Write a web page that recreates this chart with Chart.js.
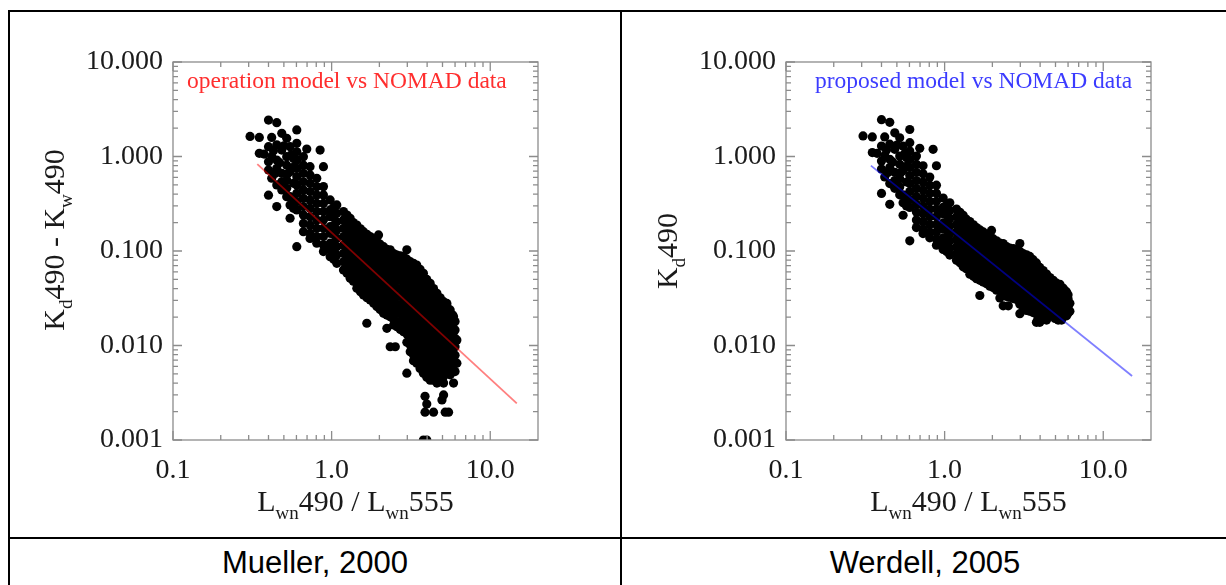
<!DOCTYPE html>
<html>
<head>
<meta charset="utf-8">
<title>Kd490 models vs NOMAD data</title>
<script src="https://cdn.jsdelivr.net/npm/chart.js@4.4.1/dist/chart.umd.min.js"></script>
<style>
  html, body { margin: 0; padding: 0; background: #fff; }
  body { width: 1226px; height: 585px; position: relative; overflow: hidden; font-family: "Liberation Sans", Arial, sans-serif; }
  .rule { position: absolute; background: #000; }
  .plot { position: absolute; top: 12px; width: 600px; height: 524px; }
  .plot canvas { display: block; }
  .caption { position: absolute; top: 545px; height: 36px; line-height: 36px; font-size: 31px; color: #000; text-align: center; }
</style>
</head>
<body>
<div class="rule" style="left:8px;top:10px;width:1218px;height:2px"></div>
<div class="rule" style="left:8px;top:10px;width:2px;height:575px"></div>
<div class="rule" style="left:620px;top:10px;width:2px;height:575px"></div>
<div class="rule" style="left:8px;top:537px;width:1218px;height:2px"></div>

<div class="plot" style="left:10px"><canvas id="opChart" width="600" height="524"></canvas></div>
<div class="plot" style="left:623px"><canvas id="propChart" width="600" height="524"></canvas></div>

<div class="caption" style="left:10px;width:610px">Mueller, 2000</div>
<div class="caption" style="left:622px;width:606px">Werdell, 2005</div>

<script>
// ===== axis ticks =====
const xMajorTicks = [0.1, 1, 10];
const xTickLabels = ['0.1', '1.0', '10.0'];
const xMinorTicks = [0.2, 0.3, 0.4, 0.5, 0.6, 0.7, 0.8, 0.9, 2, 3, 4, 5, 6, 7, 8, 9];
const yMajorTicks = [0.001, 0.01, 0.1, 1, 10];
const yTickLabels = ['0.001', '0.010', '0.100', '1.000', '10.000'];
const yMinorTicks = [
  0.002, 0.003, 0.004, 0.005, 0.006, 0.007, 0.008, 0.009,
  0.02, 0.03, 0.04, 0.05, 0.06, 0.07, 0.08, 0.09,
  0.2, 0.3, 0.4, 0.5, 0.6, 0.7, 0.8, 0.9,
  2, 3, 4, 5, 6, 7, 8, 9
];

// ===== titles (text, subscript?) =====
const xTitle = [['L'], ['wn', true], ['490 / L'], ['wn', true], ['555']];
const opYTitle = [['K'], ['d', true], ['490 - K'], ['w', true], ['490']];
const propYTitle = [['K'], ['d', true], ['490']];
const opNote = 'operation model vs NOMAD data';
const propNote = 'proposed model vs NOMAD data';

// ===== model lines (read at their two ends) =====
const opFitX = [0.34, 14.7];
const opFitY = [0.83, 0.00244];
const propFitX = [0.343, 15.2];
const propFitY = [0.80, 0.00475];

// ===== NOMAD points, Kd490 - Kw490 (left) : [Lwn490/Lwn555, [values...]] =====
const opCluster = [
  [0.306, [1.63]],
  [0.350, [1.59, 1.08]],
  [0.375, [1.06]],
  [0.400, [2.43, 1.27, 0.88, 0.72, 0.39]],
  [0.419, [1.59, 1.00, 0.59]],
  [0.430, [1.15]],
  [0.440, [0.66]],
  [0.451, [2.28, 1.33, 0.918, 0.75, 0.50, 0.295]],
  [0.470, [0.86]],
  [0.485, [1.76, 1.17, 0.664, 0.54, 0.443]],
  [0.500, [1.30]],
  [0.521, [1.56, 0.995, 0.81, 0.564, 0.46, 0.376]],
  [0.530, [0.66]],
  [0.547, [1.27, 0.69, 0.376, 0.307, 0.222]],
  [0.560, [1.05]],
  [0.575, [0.955, 0.52, 0.347, 0.283]],
  [0.580, [0.78]],
  [0.603, [1.91, 1.38, 1.12, 0.918, 0.75, 0.612, 0.50, 0.408, 0.333, 0.272, 0.111]],
  [0.664, [0.995, 0.81, 0.664, 0.54, 0.443, 0.361, 0.295, 0.241, 0.196, 0.160]],
  [0.697, [1.20]],
  [0.731, [0.781, 0.638, 0.52, 0.425, 0.347, 0.283, 0.231, 0.188, 0.154, 0.136]],
  [0.806, [0.588, 0.48, 0.392, 0.319, 0.261, 0.213, 0.174, 0.142, 0.121]],
  [0.846, [1.17]],
  [0.888, [0.781, 0.48, 0.392, 0.319, 0.261, 0.213, 0.174, 0.142, 0.116, 0.0985]]
];
const opBand = [
  [0.979, [0.347, 0.272, 0.231, 0.181, 0.154, 0.121, 0.103, 0.0871]],
  [1.078, [0.307, 0.251, 0.204, 0.167, 0.136, 0.111, 0.0907, 0.074]],
  [1.188, [0.261, 0.213, 0.174, 0.142, 0.116, 0.0945, 0.0771, 0.063]],
  [1.309, [0.222, 0.181, 0.148, 0.121, 0.0985, 0.0803, 0.0656, 0.0514]],
  [1.442, [0.188, 0.154, 0.126, 0.103, 0.0836, 0.0683, 0.0558, 0.0455, 0.0403]],
  [1.588, [0.160, 0.131, 0.107, 0.0871, 0.0711, 0.0581, 0.0474, 0.0387, 0.0343]],
  [1.750, [0.142, 0.116, 0.0945, 0.0771, 0.063, 0.0514, 0.042, 0.0343, 0.0303]],
  [1.928, [0.126, 0.103, 0.0836, 0.0683, 0.0558, 0.0455, 0.0372, 0.0303, 0.0258]],
  [2.124, [0.111, 0.0907, 0.074, 0.0605, 0.0494, 0.0403, 0.0329, 0.0268, 0.0219]],
  [2.340, [0.0985, 0.0803, 0.0656, 0.0535, 0.0437, 0.0357, 0.0291, 0.0238, 0.0202]],
  [2.578, [0.0907, 0.074, 0.0605, 0.0494, 0.0403, 0.0329, 0.0268, 0.0219, 0.0179, 0.0158]],
  [2.84, [0.0871, 0.0711, 0.0581, 0.0474, 0.0387, 0.0316, 0.0258, 0.021, 0.0172, 0.014]],
  [3.13, [0.0771, 0.063, 0.0514, 0.042, 0.0343, 0.0279, 0.0228, 0.0186, 0.0152, 0.0124, 0.0101, 0.0086]],
  [3.44, [0.0711, 0.0581, 0.0474, 0.0387, 0.0316, 0.0258, 0.021, 0.0172, 0.014, 0.0114, 0.0093, 0.0076, 0.0065]],
  [3.79, [0.0581, 0.0474, 0.0387, 0.0316, 0.0258, 0.021, 0.0172, 0.014, 0.0114, 0.0093, 0.0076, 0.0062, 0.0051]],
  [4.18, [0.0455, 0.0372, 0.0303, 0.0248, 0.0202, 0.0165, 0.0135, 0.011, 0.009, 0.0073, 0.006, 0.0049, 0.0043]],
  [4.61, [0.0357, 0.0291, 0.0238, 0.0194, 0.0158, 0.0129, 0.0105, 0.0086, 0.007, 0.0057, 0.0047, 0.004]],
  [5.08, [0.0291, 0.0238, 0.0194, 0.0158, 0.0129, 0.0105, 0.0086, 0.007, 0.0057, 0.0047, 0.004]],
  [5.59, [0.0238, 0.0194, 0.0158, 0.0129, 0.0105, 0.0086, 0.007, 0.0057, 0.0049]],
  [6.0, [0.0179, 0.0146, 0.0119, 0.0097, 0.0079, 0.0065, 0.0053]]
];
// in-between stations that close the gaps of the dense band
const opBandFill = [
  [1.03, [0.29, 0.226, 0.186, 0.151, 0.123, 0.1, 0.082]],
  [1.25, [0.24, 0.195, 0.16, 0.13, 0.106, 0.087, 0.07, 0.058]],
  [1.37, [0.2, 0.164, 0.134, 0.11, 0.09, 0.073, 0.059, 0.048]],
  [1.52, [0.172, 0.14, 0.115, 0.094, 0.077, 0.063, 0.051, 0.042, 0.037]],
  [1.67, [0.15, 0.123, 0.1, 0.082, 0.067, 0.055, 0.045, 0.037, 0.032]],
  [1.84, [0.134, 0.109, 0.089, 0.073, 0.06, 0.049, 0.04, 0.033, 0.028]],
  [2.02, [0.118, 0.097, 0.079, 0.065, 0.053, 0.043, 0.035, 0.029, 0.024]],
  [2.23, [0.104, 0.085, 0.07, 0.057, 0.046, 0.038, 0.031, 0.025, 0.021]],
  [2.46, [0.094, 0.077, 0.063, 0.051, 0.042, 0.034, 0.028, 0.023, 0.0188, 0.0165]],
  [2.71, [0.089, 0.073, 0.06, 0.049, 0.04, 0.033, 0.027, 0.022, 0.018, 0.0148]],
  [2.98, [0.082, 0.067, 0.055, 0.045, 0.037, 0.03, 0.0245, 0.02, 0.0162, 0.0132, 0.0108]],
  [3.28, [0.074, 0.061, 0.05, 0.04, 0.033, 0.027, 0.022, 0.018, 0.0147, 0.012, 0.0098, 0.008, 0.0069]],
  [3.61, [0.064, 0.052, 0.043, 0.035, 0.0285, 0.023, 0.019, 0.0155, 0.0127, 0.0103, 0.0084, 0.0069, 0.0057]],
  [3.98, [0.05, 0.041, 0.034, 0.028, 0.023, 0.0185, 0.015, 0.0122, 0.01, 0.0081, 0.0066, 0.0054, 0.0046]],
  [4.39, [0.04, 0.033, 0.027, 0.022, 0.018, 0.0147, 0.012, 0.0097, 0.0079, 0.0064, 0.0052, 0.0043]],
  [4.84, [0.032, 0.026, 0.0215, 0.0175, 0.0143, 0.0116, 0.0095, 0.0078, 0.0063, 0.0052, 0.0043]],
  [5.33, [0.026, 0.0215, 0.0175, 0.0143, 0.0116, 0.0095, 0.0078, 0.0063, 0.0052]],
  [5.8, [0.021, 0.0165, 0.0132, 0.0108, 0.0088, 0.0072, 0.0058]]
];
const opStray = [
  [1.975, 0.148], [1.667, 0.0172], [2.23, 0.0152], [2.34, 0.0097], [2.52, 0.0097],
  [2.98, 0.0051], [3.88, 0.0029], [3.98, 0.0024], [3.88, 0.00197], [4.39, 0.00197],
  [5.2, 0.00197], [5.46, 0.00197], [4.96, 0.00265], [5.08, 0.0030], [3.79, 0.0010],
  [3.98, 0.0010], [2.34, 0.103], [2.98, 0.103], [5.33, 0.0279], [5.87, 0.0202],
  [6.16, 0.0114], [6.16, 0.0065], [5.87, 0.004]
];

// ===== NOMAD points, Kd490 (right) =====
const propCluster = [
  [0.306, [1.65]],
  [0.350, [1.61, 1.10]],
  [0.375, [1.08]],
  [0.400, [2.45, 1.29, 0.897, 0.737, 0.407]],
  [0.419, [1.61, 1.02, 0.607]],
  [0.430, [1.17]],
  [0.440, [0.677]],
  [0.451, [2.30, 1.35, 0.935, 0.767, 0.517, 0.312]],
  [0.470, [0.877]],
  [0.485, [1.78, 1.19, 0.681, 0.557, 0.460]],
  [0.500, [1.32]],
  [0.521, [1.58, 1.01, 0.827, 0.581, 0.477, 0.393]],
  [0.530, [0.677]],
  [0.547, [1.29, 0.707, 0.393, 0.324, 0.239]],
  [0.560, [1.07]],
  [0.575, [0.972, 0.537, 0.364, 0.300]],
  [0.580, [0.797]],
  [0.603, [1.93, 1.40, 1.14, 0.935, 0.767, 0.629, 0.517, 0.425, 0.350, 0.289, 0.128]],
  [0.664, [1.01, 0.827, 0.681, 0.557, 0.460, 0.378, 0.312, 0.258, 0.213, 0.177]],
  [0.697, [1.22]],
  [0.731, [0.798, 0.655, 0.537, 0.442, 0.364, 0.300, 0.248, 0.205, 0.171, 0.153]],
  [0.806, [0.605, 0.497, 0.409, 0.336, 0.278, 0.230, 0.191, 0.159, 0.138]],
  [0.846, [1.19]],
  [0.888, [0.798, 0.497, 0.409, 0.336, 0.278, 0.230, 0.191, 0.159, 0.133, 0.115]]
];
const propBand = [
  [0.979, [0.364, 0.289, 0.248, 0.198, 0.171, 0.138, 0.120, 0.104]],
  [1.078, [0.324, 0.268, 0.221, 0.184, 0.153, 0.128, 0.107, 0.0906]],
  [1.188, [0.278, 0.230, 0.191, 0.159, 0.133, 0.111, 0.0937, 0.0796]],
  [1.309, [0.239, 0.198, 0.165, 0.138, 0.115, 0.0969, 0.0822, 0.068]],
  [1.442, [0.205, 0.171, 0.143, 0.120, 0.100, 0.0849, 0.0724, 0.0621, 0.0569]],
  [1.588, [0.177, 0.148, 0.124, 0.104, 0.0877, 0.0747, 0.064, 0.0553, 0.0509]],
  [1.750, [0.159, 0.133, 0.111, 0.0937, 0.0796, 0.068, 0.0586, 0.0509, 0.0469]],
  [1.928, [0.143, 0.120, 0.100, 0.0849, 0.0724, 0.0621, 0.0538, 0.0469, 0.0424]],
  [2.124, [0.128, 0.107, 0.0906, 0.0771, 0.066, 0.0569, 0.0495, 0.0434, 0.0385]],
  [2.340, [0.115, 0.0969, 0.0822, 0.0701, 0.0603, 0.0523, 0.0457, 0.0404, 0.0368]],
  [2.578, [0.107, 0.0906, 0.0771, 0.066, 0.0569, 0.0495, 0.0434, 0.0385, 0.0345, 0.0324]],
  [2.84, [0.104, 0.0877, 0.0747, 0.064, 0.0553, 0.0482, 0.0424, 0.0376, 0.0338, 0.0306]],
  [3.13, [0.0937, 0.0796, 0.068, 0.0586, 0.0509, 0.0445, 0.0394, 0.0352, 0.0318, 0.029, 0.0267, 0.0252]],
  [3.44, [0.0877, 0.0747, 0.064, 0.0553, 0.0482, 0.0424, 0.0376, 0.0338, 0.0306, 0.028, 0.0259, 0.0242, 0.0231]],
  [3.79, [0.0747, 0.064, 0.0553, 0.0482, 0.0424, 0.0376, 0.0338, 0.0306, 0.028, 0.0259, 0.0242, 0.0228, 0.0217]],
  [4.18, [0.0621, 0.0538, 0.0469, 0.0414, 0.0368, 0.0331, 0.0301, 0.0276, 0.0256, 0.0239, 0.0226, 0.0215, 0.0209]],
  [4.61, [0.0523, 0.0457, 0.0404, 0.036, 0.0324, 0.0295, 0.0271, 0.0252, 0.0236, 0.0223, 0.0213, 0.0206]],
  [5.08, [0.0457, 0.0404, 0.036, 0.0324, 0.0295, 0.0271, 0.0252, 0.0236, 0.0223, 0.0213, 0.0206]],
  [5.59, [0.0404, 0.036, 0.0324, 0.0295, 0.0271, 0.0252, 0.0236, 0.0223, 0.0215]],
  [6.0, [0.0345, 0.0312, 0.0285, 0.0263, 0.0245, 0.0231, 0.0219]]
];
const propBandFill = [
  [1.03, [0.307, 0.243, 0.203, 0.168, 0.14, 0.117, 0.099]],
  [1.25, [0.257, 0.212, 0.177, 0.147, 0.123, 0.104, 0.087, 0.075]],
  [1.37, [0.217, 0.181, 0.151, 0.127, 0.107, 0.09, 0.076, 0.065]],
  [1.52, [0.189, 0.157, 0.132, 0.111, 0.094, 0.08, 0.068, 0.059, 0.054]],
  [1.67, [0.167, 0.14, 0.117, 0.099, 0.084, 0.072, 0.062, 0.054, 0.049]],
  [1.84, [0.151, 0.126, 0.106, 0.09, 0.077, 0.066, 0.057, 0.05, 0.045]],
  [2.02, [0.135, 0.114, 0.096, 0.082, 0.07, 0.06, 0.052, 0.046, 0.041]],
  [2.23, [0.121, 0.102, 0.087, 0.074, 0.063, 0.055, 0.048, 0.042, 0.038]],
  [2.46, [0.111, 0.094, 0.08, 0.068, 0.059, 0.051, 0.045, 0.04, 0.0354, 0.0331]],
  [2.71, [0.106, 0.09, 0.077, 0.066, 0.057, 0.05, 0.044, 0.039, 0.035, 0.0314]],
  [2.98, [0.099, 0.084, 0.072, 0.062, 0.054, 0.047, 0.0411, 0.0366, 0.0328, 0.0298, 0.0274]],
  [3.28, [0.091, 0.078, 0.067, 0.057, 0.05, 0.044, 0.039, 0.035, 0.0313, 0.0286, 0.0264, 0.0246, 0.0235]],
  [3.61, [0.081, 0.069, 0.06, 0.052, 0.0451, 0.04, 0.036, 0.0321, 0.0293, 0.0269, 0.025, 0.0235, 0.0223]],
  [3.98, [0.067, 0.058, 0.051, 0.045, 0.04, 0.0351, 0.0316, 0.0288, 0.0266, 0.0247, 0.0232, 0.022, 0.0212]],
  [4.39, [0.057, 0.05, 0.044, 0.039, 0.035, 0.0313, 0.0286, 0.0263, 0.0245, 0.023, 0.0218, 0.0209]],
  [4.84, [0.049, 0.043, 0.0381, 0.0341, 0.0309, 0.0282, 0.0261, 0.0244, 0.0229, 0.0218, 0.0209]],
  [5.33, [0.043, 0.0381, 0.0341, 0.0309, 0.0282, 0.0261, 0.0244, 0.0229, 0.0218]],
  [5.8, [0.0376, 0.0331, 0.0298, 0.0274, 0.0254, 0.0238, 0.0224]]
];
const propStray = [
  [1.975, 0.165], [1.667, 0.0338], [2.23, 0.0318], [2.34, 0.0263], [2.52, 0.0263],
  [2.98, 0.0217], [3.88, 0.0195], [3.98, 0.019], [3.88, 0.0186], [4.39, 0.0186],
  [5.2, 0.0186], [5.46, 0.0186], [4.96, 0.0193], [5.08, 0.0196], [3.79, 0.0176],
  [3.98, 0.0176], [2.34, 0.12], [2.98, 0.12], [5.33, 0.0445], [5.87, 0.0368],
  [6.16, 0.028], [6.16, 0.0231], [5.87, 0.0206]
];

// ===== helpers =====
const serif = '"Liberation Serif", "Times New Roman", serif';

function toPoints(columns) {
  const pts = [];
  columns.forEach(([x, ys]) => ys.forEach(y => pts.push({ x, y })));
  return pts;
}

function drawRich(ctx, parts, cx, y, size) {
  const subSize = Math.round(size * 0.62);
  let w = 0;
  parts.forEach(([t, sub]) => { ctx.font = `${sub ? subSize : size}px ${serif}`; w += ctx.measureText(t).width; });
  let x = cx - w / 2;
  parts.forEach(([t, sub]) => {
    ctx.font = `${sub ? subSize : size}px ${serif}`;
    ctx.fillText(t, x, sub ? y + size * 0.28 : y);
    x += ctx.measureText(t).width;
  });
}

// IDL-like frame: box with inward ticks on all four sides
const frame = {
  id: 'frame',
  afterDatasetsDraw(chart) {
    const { ctx, chartArea: a, scales: { x, y } } = chart;
    ctx.save();
    ctx.strokeStyle = '#8c8c8c';
    ctx.lineWidth = 1.3;
    ctx.strokeRect(a.left, a.top, a.right - a.left, a.bottom - a.top);
    ctx.beginPath();
    const xt = (v, len) => {
      const p = x.getPixelForValue(v);
      ctx.moveTo(p, a.bottom); ctx.lineTo(p, a.bottom - len);
      ctx.moveTo(p, a.top); ctx.lineTo(p, a.top + len);
    };
    const yt = (v, len) => {
      const p = y.getPixelForValue(v);
      ctx.moveTo(a.left, p); ctx.lineTo(a.left + len, p);
      ctx.moveTo(a.right, p); ctx.lineTo(a.right - len, p);
    };
    xMajorTicks.forEach(v => xt(v, 9));
    xMinorTicks.forEach(v => xt(v, 5));
    yMajorTicks.forEach(v => yt(v, 9));
    yMinorTicks.forEach(v => yt(v, 5));
    ctx.stroke();
    ctx.restore();
  }
};

function makeLabels(cfg) {
  return {
    id: 'labels',
    afterDraw(chart) {
      const { ctx, chartArea: a } = chart;
      ctx.save();
      ctx.textBaseline = 'alphabetic';
      ctx.textAlign = 'left';
      ctx.fillStyle = cfg.noteColor;
      ctx.font = `23.5px ${serif}`;
      ctx.fillText(cfg.note, a.left + cfg.noteDx, a.top + 26);

      ctx.fillStyle = '#1a1a1a';
      drawRich(ctx, xTitle, (a.left + a.right) / 2, a.bottom + 71, 30);
      ctx.translate(54, (a.top + a.bottom) / 2 + cfg.yShift);
      ctx.rotate(-Math.PI / 2);
      drawRich(ctx, cfg.yTitle, 0, 0, 30);
      ctx.restore();
    }
  };
}

function buildChart(canvasId, points, fitX, fitY, fitColor, labelCfg) {
  const tickFont = { family: serif, size: 28 };
  return new Chart(document.getElementById(canvasId), {
    type: 'scatter',
    data: {
      datasets: [
        {
          label: 'model',
          data: fitX.map((x, i) => ({ x, y: fitY[i] })),
          showLine: true,
          borderColor: fitColor,
          borderWidth: 1.8,
          pointRadius: 0,
          order: 0
        },
        {
          label: 'NOMAD',
          data: points,
          backgroundColor: '#000',
          borderWidth: 0,
          pointRadius: 4.6,
          order: 1
        }
      ]
    },
    options: {
      responsive: false,
      animation: false,
      events: [],
      layout: { padding: { left: 0, right: 72, top: 50, bottom: 0 } },
      plugins: { legend: { display: false }, tooltip: { enabled: false } },
      scales: {
        x: {
          type: 'logarithmic',
          min: 0.1, max: 20,
          grid: { display: false, drawTicks: false },
          border: { display: false },
          afterBuildTicks: s => { s.ticks = xMajorTicks.map(v => ({ value: v })); },
          afterFit: s => { s.height = 96; },
          ticks: {
            autoSkip: false, maxRotation: 0, padding: 14, color: '#1a1a1a', font: tickFont,
            callback: (v, i) => xTickLabels[i]
          }
        },
        y: {
          type: 'logarithmic',
          min: 0.001, max: 10,
          grid: { display: false, drawTicks: false },
          border: { display: false },
          afterBuildTicks: s => { s.ticks = yMajorTicks.map(v => ({ value: v })); },
          afterFit: s => { s.width = 163; },
          ticks: {
            autoSkip: false, padding: 10, color: '#1a1a1a', font: tickFont,
            callback: (v, i) => yTickLabels[i]
          }
        }
      }
    },
    plugins: [frame, makeLabels(labelCfg)]
  });
}

buildChart('opChart',
  toPoints(opCluster).concat(toPoints(opBand), toPoints(opBandFill), opStray.map(([x, y]) => ({ x, y }))),
  opFitX, opFitY, 'rgba(255, 0, 0, 0.5)',
  { note: opNote, noteColor: '#ff2e2e', noteDx: 14, yTitle: opYTitle, yShift: -11 });

buildChart('propChart',
  toPoints(propCluster).concat(toPoints(propBand), toPoints(propBandFill), propStray.map(([x, y]) => ({ x, y }))),
  propFitX, propFitY, 'rgba(0, 0, 255, 0.5)',
  { note: propNote, noteColor: '#3b3bff', noteDx: 29, yTitle: propYTitle, yShift: 0 });
</script>
</body>
</html>
